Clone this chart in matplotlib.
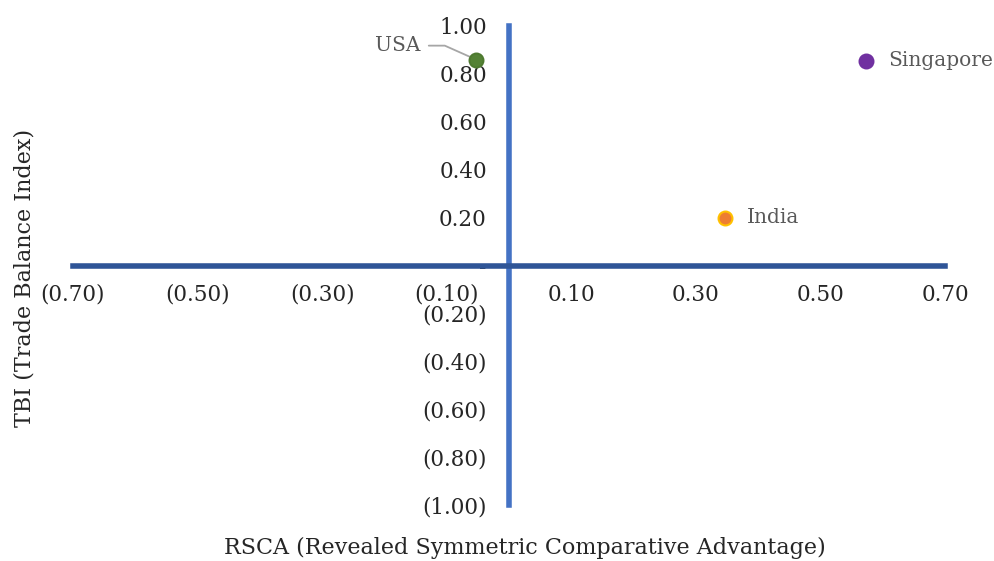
import matplotlib
matplotlib.use("Agg")
import matplotlib.pyplot as plt

countries = ["USA", "Singapore", "India"]
rsca = [-0.053, 0.573, 0.347]
tbi = [0.86, 0.855, 0.20]
fills = ["#548235", "#7030A0", "#ED7D31"]
edges = ["#4E7A30", "#7030A0", "#FFC000"]

x_ticks = [-0.7, -0.5, -0.3, -0.1, 0.1, 0.3, 0.5, 0.7]
y_ticks = [-1.0, -0.8, -0.6, -0.4, -0.2, 0.0, 0.2, 0.4, 0.6, 0.8, 1.0]

plt.rcParams["font.family"] = "DejaVu Serif"


def fmt(v):
    if abs(v) < 1e-9:
        return "-"
    return f"({abs(v):.2f})" if v < 0 else f"{v:.2f}"


fig = plt.figure(figsize=(9.95, 5.61), dpi=100)
ax = fig.add_axes([73 / 995, 1 - 505 / 561, 872 / 995, 479 / 561])
ax.set_xlim(-0.7, 0.7)
ax.set_ylim(-1.0, 1.0)

for s in ["top", "right"]:
    ax.spines[s].set_visible(False)
ax.spines["left"].set_position(("data", 0))
ax.spines["bottom"].set_position(("data", 0))
ax.spines["left"].set_color("#4472C4")
ax.spines["bottom"].set_color("#2F5597")
ax.spines["left"].set_linewidth(4)
ax.spines["bottom"].set_linewidth(4)

ax.set_xticks(x_ticks)
ax.set_xticklabels([fmt(v) for v in x_ticks])
ax.set_yticks(y_ticks)
ax.set_yticklabels([fmt(v) for v in y_ticks])
ax.tick_params(axis="x", length=0, pad=13, labelsize=15.5, labelcolor="#262626")
ax.tick_params(axis="y", length=0, pad=16, labelsize=15.5, labelcolor="#262626")

for x, y, fc, ec in zip(rsca, tbi, fills, edges):
    ax.plot(x, y, "o", ms=10, mfc=fc, mec=ec, mew=1.5, zorder=5)

lab_kw = dict(fontsize=14.5, color="#595959", va="center")
ax.annotate("Singapore", (rsca[1], tbi[1]), xytext=(16, 0), textcoords="offset points", ha="left", **lab_kw)
ax.annotate("India", (rsca[2], tbi[2]), xytext=(16, 0), textcoords="offset points", ha="left", **lab_kw)
ax.annotate("USA", (rsca[0], tbi[0]), xytext=(-40, 10), textcoords="offset points", ha="right", **lab_kw,
            arrowprops=dict(arrowstyle="-", color="#A6A6A6", lw=1.3, shrinkA=4, shrinkB=3,
                            connectionstyle="angle,angleA=0,angleB=-24,rad=0"))

fig.text(525 / 995, 1 - 548 / 561, "RSCA (Revealed Symmetric Comparative Advantage)",
         ha="center", va="center", fontsize=16, color="#262626")
fig.text(25 / 995, 1 - 278 / 561, "TBI (Trade Balance Index)", rotation=90,
         ha="center", va="center", fontsize=16, color="#262626")

fig.savefig("out.png", dpi=100)
